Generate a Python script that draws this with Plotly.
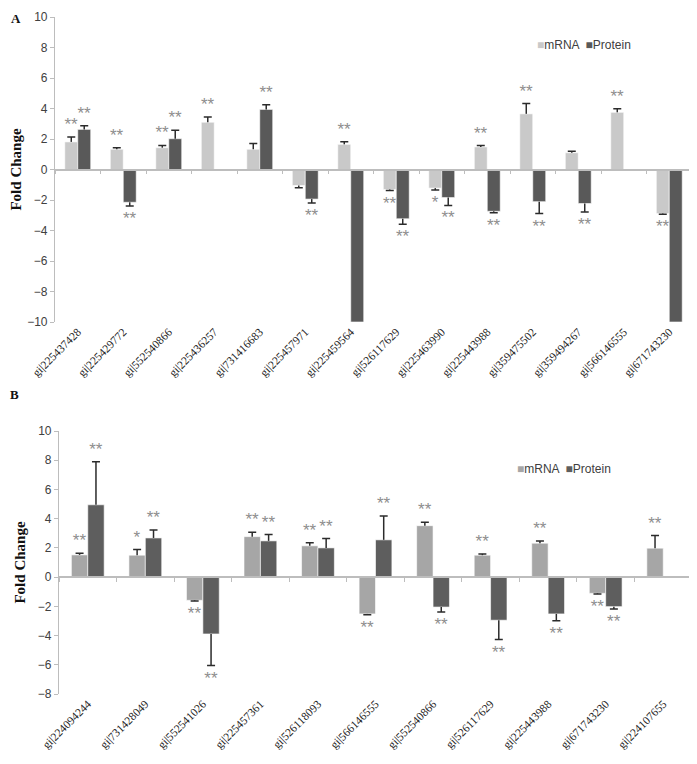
import plotly.graph_objects as go

# ---------------- data ----------------
cats_a = ["gi|225437428", "gi|225429772", "gi|552540866", "gi|225436257", "gi|731416683",
          "gi|225457971", "gi|225459564", "gi|526117629", "gi|225463990", "gi|225443988",
          "gi|359475502", "gi|359494267", "gi|566146555", "gi|671743230"]
mrna_a = [1.81, 1.33, 1.43, 3.10, 1.33, -1.05, 1.65, -1.31, -1.22, 1.48, 3.65, 1.10, 3.75, -2.89]
mrna_a_err = [0.32, 0.10, 0.15, 0.34, 0.38, 0.15, 0.17, 0.07, 0.13, 0.09, 0.67, 0.10, 0.24, 0.05]
prot_a = [2.63, -2.15, 2.02, None, 3.94, -1.94, -10, -3.23, -1.84, -2.74, -2.11, -2.23, None, -10]
prot_a_err = [0.24, 0.25, 0.55, None, 0.30, 0.26, None, 0.36, 0.52, 0.09, 0.78, 0.55, None, None]
mrna_a_sig = ["**", "**", "**", "**", "", "", "**", "**", "*", "**", "**", "", "**", "**"]
prot_a_sig = ["**", "**", "**", "", "**", "**", "", "**", "**", "**", "**", "**", "", ""]

cats_b = ["gi|224094244", "gi|731428049", "gi|552541026", "gi|225457361", "gi|526118093",
          "gi|566146555", "gi|552540866", "gi|526117629", "gi|225443988", "gi|671743230",
          "gi|224107655"]
mrna_b = [1.52, 1.50, -1.59, 2.77, 2.14, -2.52, 3.52, 1.50, 2.32, -1.11, 1.98]
mrna_b_err = [0.12, 0.39, 0.05, 0.30, 0.22, 0.05, 0.23, 0.09, 0.16, 0.05, 0.86]
prot_b = [4.95, 2.68, -3.89, 2.48, 2.00, 2.55, -2.05, -2.95, -2.52, -2.02, None]
prot_b_err = [2.94, 0.55, 2.16, 0.43, 0.64, 1.63, 0.34, 1.32, 0.46, 0.16, None]
mrna_b_sig = ["**", "*", "**", "**", "**", "**", "**", "**", "**", "**", "**"]
prot_b_sig = ["**", "**", "**", "**", "**", "**", "**", "**", "**", "**", ""]

series_names = ["mRNA", "Protein"]
yrange_a = [-10, 10]
yrange_b = [-8, 10]

# ---------------- style ----------------
OFF = 8  # default page body margin
W, H = 697 - OFF, 764 - OFF
def fx(px): return (px - OFF) / W
def fy(py): return 1 - (py - OFF) / H

col_a = {"mRNA": "#c9c9c9", "Protein": "#595959"}
col_b = {"mRNA": "#a6a6a6", "Protein": "#5e5e5e"}
ERR_COL = "#2b2b2b"
AX_COL = "#bdbdbd"
SIG_COL = "#8e8e8e"

fig = go.Figure()


def add_panel(cats, series, colors, xa, ya):
    for name, vals, errs, sigs in series:
        og = name + xa
        plus = [(e if (v is not None and e is not None and v > 0) else 0) for v, e in zip(vals, errs)]
        minus = [(e if (v is not None and e is not None and v < 0) else 0) for v, e in zip(vals, errs)]
        fig.add_trace(go.Bar(
            x=cats, y=vals, name=name, offsetgroup=og, xaxis=xa, yaxis=ya,
            marker=dict(color=colors[name], line=dict(color="white", width=0.6)),
            error_y=dict(type="data", symmetric=False, array=plus, arrayminus=minus,
                         width=0, thickness=1.5, color=ERR_COL),
            showlegend=False, hoverinfo="skip"))
        tips = [(v + (e if v > 0 else -e)) if (v is not None and e is not None) else None
                for v, e in zip(vals, errs)]
        fig.add_trace(go.Bar(
            x=cats, y=tips, name=name + " cap", offsetgroup=og, xaxis=xa, yaxis=ya,
            marker=dict(color="rgba(0,0,0,0)", line=dict(width=0)),
            error_y=dict(type="data", array=[0] * len(cats), width=4, thickness=1.5, color=ERR_COL),
            text=sigs, textposition="outside", constraintext="none", cliponaxis=False,
            textfont=dict(family="Liberation Sans", size=17, color=SIG_COL),
            showlegend=False, hoverinfo="skip"))


add_panel(cats_a, [("mRNA", mrna_a, mrna_a_err, mrna_a_sig),
                   ("Protein", prot_a, prot_a_err, prot_a_sig)], col_a, "x", "y")
add_panel(cats_b, [("mRNA", mrna_b, mrna_b_err, mrna_b_sig),
                   ("Protein", prot_b, prot_b_err, prot_b_sig)], col_b, "x2", "y2")

dom_xa = [fx(55), fx(692)]
dom_ya = [fy(322), fy(17)]
dom_xb = [fx(59), fx(692)]
dom_yb = [fy(694), fy(431)]

def zero_pos(dom, rng):
    return dom[0] + (0 - rng[0]) / (rng[1] - rng[0]) * (dom[1] - dom[0])

tickfont_cat = dict(family="Liberation Serif", size=11.5, color="#222222")
tickfont_y = dict(family="Liberation Sans", size=12, color="#404040")
title_font = dict(family="Liberation Serif", size=15, color="#111111")

def yaxis(dom, rng, anchor):
    return dict(domain=dom, range=rng, anchor=anchor, dtick=2, showgrid=False, zeroline=False,
                showline=True, linecolor=AX_COL, linewidth=1.2, ticks="outside", ticklen=4,
                tickcolor=AX_COL, tickfont=tickfont_y, automargin=False,
                ticklabeloverflow="allow",
                title=dict(text="<b>Fold Change</b>", font=title_font, standoff=8))

def xaxis(dom, n, anchor):
    return dict(domain=dom, anchor=anchor, type="category", range=[-0.5, n - 0.5],
                tickangle=-45, tickfont=tickfont_cat, showgrid=False, showline=False,
                zeroline=False, ticks="", automargin=False, ticklabeloverflow="allow")

def zaxis(over, n, pos):
    return dict(overlaying=over, anchor="free", position=pos, range=[-0.5, n - 0.5],
                tickmode="array", tickvals=[i - 0.5 for i in range(n + 1)],
                showticklabels=False, showline=True, linecolor=AX_COL, linewidth=1.5,
                ticks="outside", ticklen=4, tickcolor=AX_COL, showgrid=False, zeroline=False,
                automargin=False)

# dummy traces so the overlay axes get drawn
fig.add_trace(go.Scatter(x=[None], y=[None], xaxis="x3", yaxis="y", showlegend=False, hoverinfo="skip"))
fig.add_trace(go.Scatter(x=[None], y=[None], xaxis="x4", yaxis="y2", showlegend=False, hoverinfo="skip"))

legend_html = lambda c: (f"<span style='color:{c['mRNA']}'>■</span>mRNA  "
                         f"<span style='color:{c['Protein']}'>■</span>Protein")

fig.update_layout(
    width=W, height=H, margin=dict(l=0, r=0, t=0, b=0, autoexpand=False),
    paper_bgcolor="white", plot_bgcolor="white",
    barmode="group", bargap=0.43, bargroupgap=0,
    showlegend=False,
    xaxis=xaxis(dom_xa, len(cats_a), "y"),
    yaxis=yaxis(dom_ya, yrange_a, "x"),
    xaxis2=xaxis(dom_xb, len(cats_b), "y2"),
    yaxis2=yaxis(dom_yb, yrange_b, "x2"),
    xaxis3=zaxis("x", len(cats_a), zero_pos(dom_ya, yrange_a)),
    xaxis4=zaxis("x2", len(cats_b), zero_pos(dom_yb, yrange_b)),
    annotations=[
        dict(text="<b>A</b>", x=fx(9), y=fy(18), xref="paper", yref="paper", showarrow=False,
             xanchor="left", yanchor="middle", font=dict(family="Liberation Serif", size=13, color="#111")),
        dict(text="<b>B</b>", x=fx(8), y=fy(395), xref="paper", yref="paper", showarrow=False,
             xanchor="left", yanchor="middle", font=dict(family="Liberation Serif", size=13, color="#111")),
        dict(text=legend_html(col_a), x=fx(535), y=fy(45), xref="paper", yref="paper", showarrow=False,
             xanchor="left", yanchor="middle", font=dict(family="Liberation Sans", size=12, color="#404040")),
        dict(text=legend_html(col_b), x=fx(515), y=fy(469), xref="paper", yref="paper", showarrow=False,
             xanchor="left", yanchor="middle", font=dict(family="Liberation Sans", size=12, color="#404040")),
    ],
)

fig.write_html("out.html")
